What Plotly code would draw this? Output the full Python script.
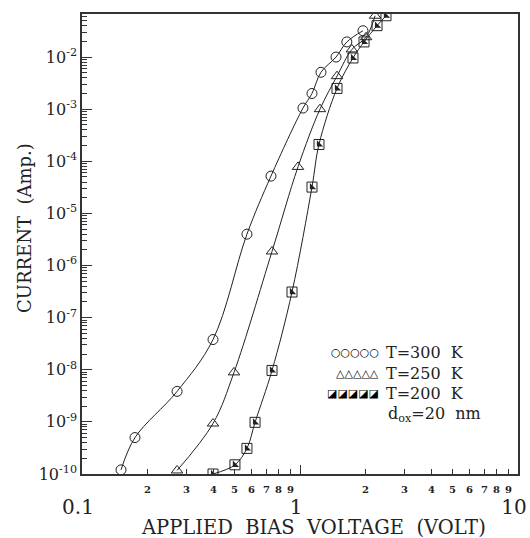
import numpy as np
import plotly.graph_objects as go

# ---- data ----
v300 = [0.151, 0.175, 0.273, 0.399, 0.571, 0.736, 1.032, 1.135, 1.248, 1.463, 1.64, 1.945]
i300 = [1.2e-10, 5.0e-10, 3.85e-9, 3.8e-8, 4.0e-6, 5.2e-5, 1.05e-3, 2.0e-3, 5.1e-3, 1.0e-2, 1.95e-2, 3.2e-2]

v250 = [0.273, 0.399, 0.498, 0.744, 0.979, 1.235, 1.478, 1.73, 2.01, 2.21]
i250 = [1.17e-10, 9.3e-10, 8.9e-9, 1.86e-6, 7.8e-5, 1.0e-3, 4.3e-3, 1.4e-2, 2.4e-2, 6.2e-2]

v200 = [0.399, 0.503, 0.571, 0.622, 0.744, 0.919, 1.135, 1.222, 1.478, 1.75, 1.966, 2.256, 2.48]
i200 = [1.0e-10, 1.5e-10, 3.1e-10, 9.8e-10, 9.7e-9, 3.1e-7, 3.2e-5, 2.1e-4, 2.5e-3, 9.6e-3, 1.95e-2, 4.0e-2, 6.2e-2]

y_exps = [-2, -3, -4, -5, -6, -7, -8, -9, -10]
x_major = [0.1, 1, 10]
x_major_labels = ["0.1", "1", "10"]
x_minor_digits = [2, 3, 4, 5, 6, 7, 8, 9]

legend_rows = [("○○○○○", "T=300\u00a0\u00a0K"),
               ("△△△△△", "T=250\u00a0\u00a0K"),
               ("◪◪◪◪◪", "T=200\u00a0\u00a0K")]

SERIF = "DejaVu Serif"
INK = "#222"
NB2 = "\u00a0\u00a0"

fig = go.Figure()

def add_series(v, i, symbol):
    fig.add_trace(go.Scatter(
        x=v, y=i, mode="lines+markers",
        line=dict(color=INK, width=1, shape="spline", smoothing=1.0),
        marker=dict(symbol=symbol, size=10, color=INK, line=dict(width=1, color=INK)),
        showlegend=False, hoverinfo="skip"))

add_series(v300, i300, "circle-open")
add_series(v250, i250, "triangle-up-open")
add_series(v200, i200, "square-open")
# filled half of the square markers
fig.add_trace(go.Scatter(
    x=v200, y=i200, mode="markers",
    marker=dict(symbol="triangle-sw", size=7, color=INK, line=dict(width=0)),
    showlegend=False, hoverinfo="skip"))

minor_x = [d * 10.0 ** e for e in (-1, 0) for d in x_minor_digits]
minor_y = [d * 10.0 ** e for e in range(-10, -1) for d in x_minor_digits]

fig.update_xaxes(
    type="log", range=[-1, 1], automargin=False,
    showline=True, linecolor="#333", linewidth=1.5, mirror=True,
    showgrid=False, zeroline=False,
    tickmode="array", tickvals=x_major, ticktext=x_major_labels,
    ticks="inside", ticklen=9, tickwidth=1.2, tickcolor="#333",
    tickfont=dict(family=SERIF, size=20, color=INK),
    ticklabelstandoff=14, ticklabelshift=-4, ticklabeloverflow="allow",
    minor=dict(tickmode="array", tickvals=minor_x, ticks="inside",
               ticklen=5, tickwidth=1, tickcolor="#333", showgrid=False),
)
fig.update_yaxes(
    type="log", range=[-10, -1.174], automargin=False,
    showline=True, linecolor="#333", linewidth=1.5, mirror=True,
    showgrid=False, zeroline=False,
    tickmode="array", tickvals=[10.0 ** e for e in y_exps],
    ticktext=["10<sup>%d</sup>" % e for e in y_exps],
    ticks="inside", ticklen=10, tickwidth=1.2, tickcolor="#333",
    tickfont=dict(family=SERIF, size=16, color=INK),
    ticklabeloverflow="allow",
    minor=dict(tickmode="array", tickvals=minor_y, ticks="inside",
               ticklen=5, tickwidth=1, tickcolor="#333", showgrid=False),
)

W, H = 530, 538
L, R, T, B = 82, 12, 14, 64
pw, ph = W - L - R, H - T - B

def px(x):
    return (x - L) / pw

def py(y):
    return (H - B - y) / ph

ann = []
for d in x_minor_digits:
    for e in (-1, 0):
        ann.append(dict(x=np.log10(d * 10.0 ** e), y=0, xref="x", yref="paper",
                        text="<b>%d</b>" % d, showarrow=False, yanchor="top",
                        xanchor="center", yshift=-8,
                        font=dict(family=SERIF, size=10, color=INK)))

ann.append(dict(x=px(313), y=py(527), xref="paper", yref="paper",
                xanchor="center", yanchor="middle",
                text="APPLIED" + NB2 + "BIAS" + NB2 + "VOLTAGE" + NB2 + "(VOLT)",
                showarrow=False, font=dict(family=SERIF, size=19.5, color=INK)))
ann.append(dict(x=px(24), y=py(228), xref="paper", yref="paper",
                xanchor="center", yanchor="middle",
                text="CURRENT" + NB2 + "(Amp.)", textangle=-90, showarrow=False,
                font=dict(family=SERIF, size=18, color=INK)))

# legend block
row_y = [352, 373, 393]
for (sym, lab), yy in zip(legend_rows, row_y):
    ann.append(dict(x=px(381), y=py(yy), xref="paper", yref="paper", text=sym,
                    showarrow=False, xanchor="right", yanchor="middle",
                    font=dict(family="DejaVu Sans", size=11, color="#000")))
    ann.append(dict(x=px(384), y=py(yy), xref="paper", yref="paper", text=lab,
                    showarrow=False, xanchor="left", yanchor="middle",
                    font=dict(family=SERIF, size=16, color=INK)))
ann.append(dict(x=px(386), y=py(414), xref="paper", yref="paper",
                text="d<sub>ox</sub>=20" + NB2 + "nm", showarrow=False,
                xanchor="left", yanchor="middle",
                font=dict(family=SERIF, size=16, color=INK)))

fig.update_layout(
    width=W, height=H, autosize=False,
    margin=dict(l=L, r=R, t=T, b=B),
    paper_bgcolor="white", plot_bgcolor="white",
    annotations=ann, showlegend=False,
)

fig.write_html("out.html", config={"displayModeBar": False},
               post_script="document.body.style.margin='0';"
                           "document.body.style.overflow='hidden';")
